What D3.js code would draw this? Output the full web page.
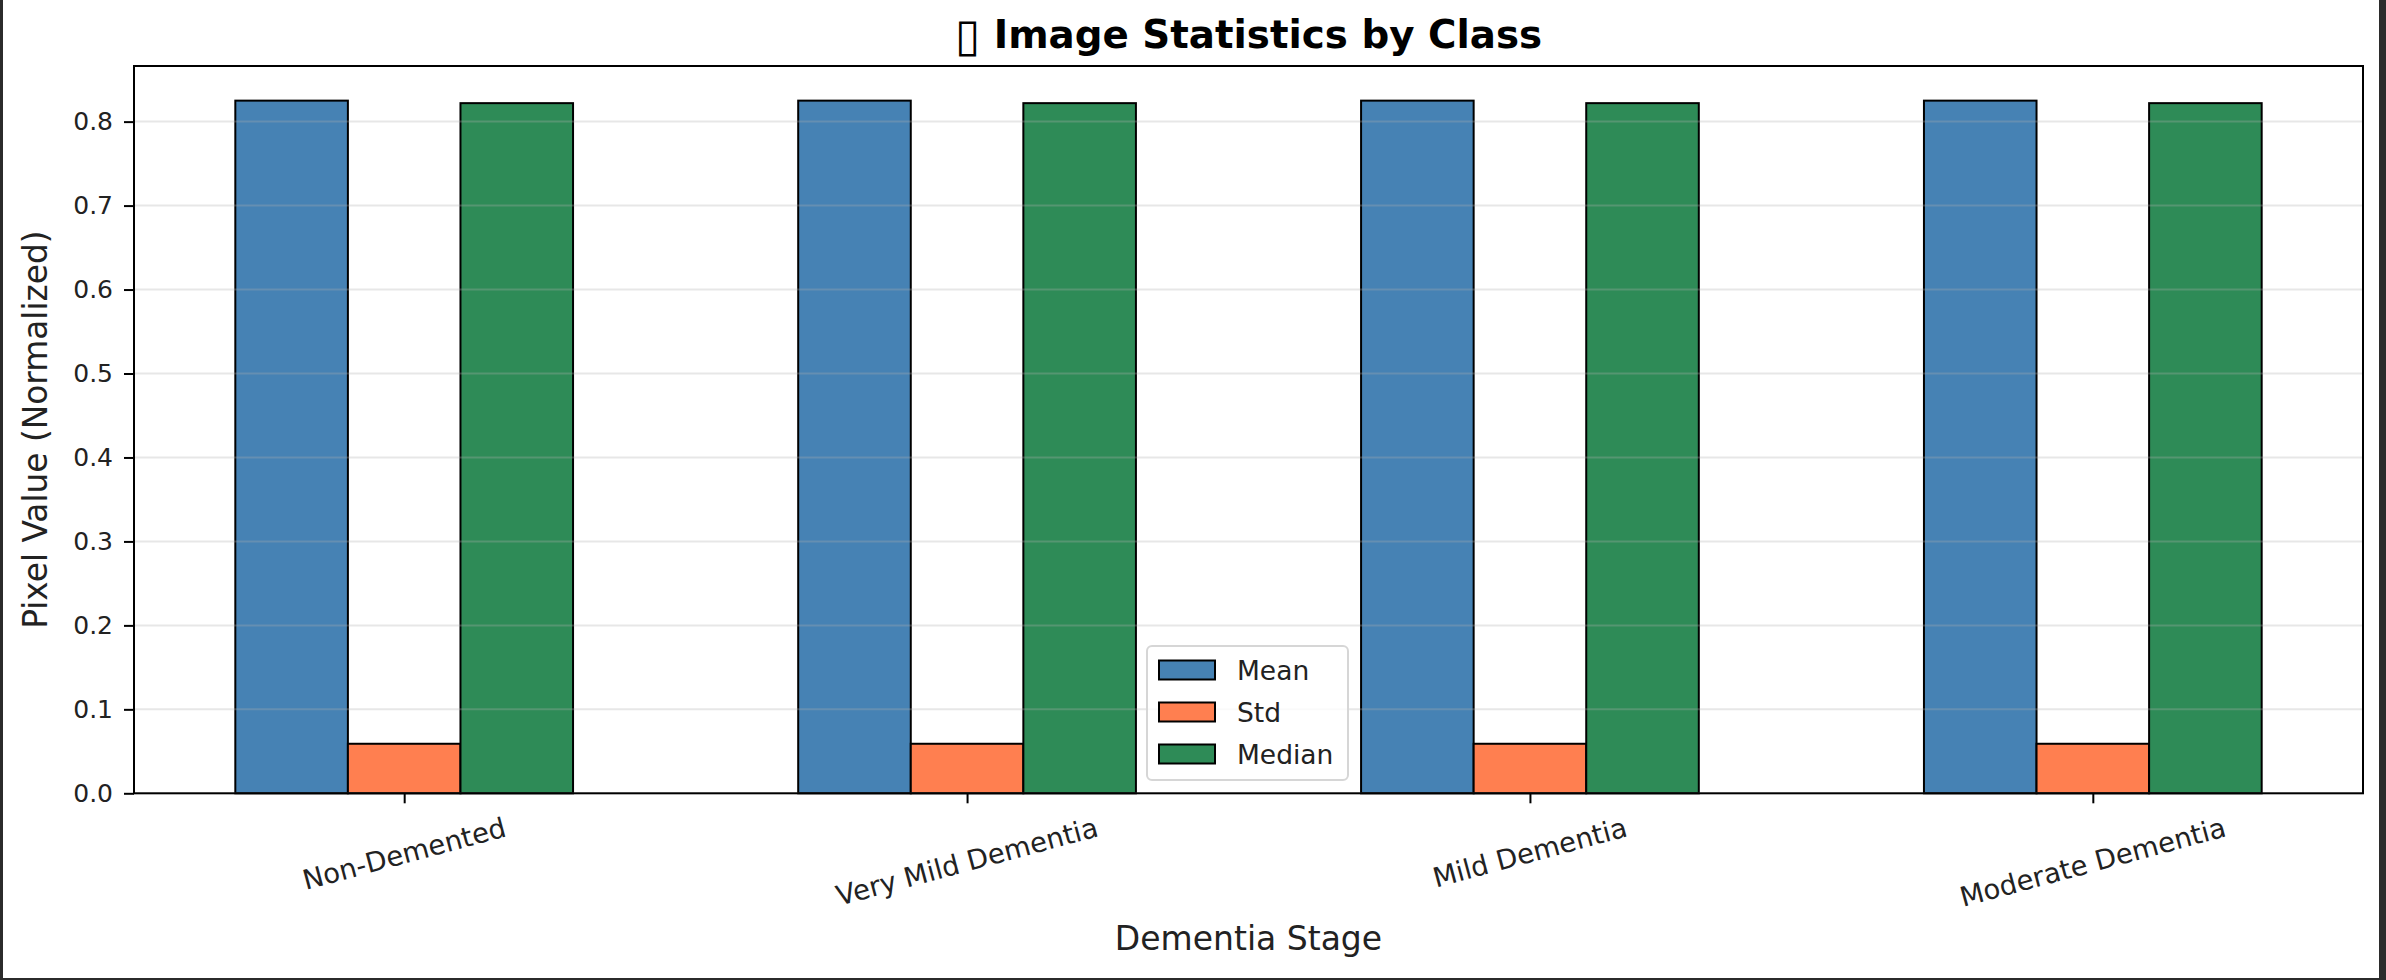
<!DOCTYPE html>
<html><head><meta charset="utf-8">
<script src="https://cdn.jsdelivr.net/npm/d3@7"></script>
<style>
html,body{margin:0;padding:0;background:#fff;}
svg{display:block;font-family:"DejaVu Sans",sans-serif;}
</style></head>
<body>
<svg id="c" width="2386" height="980"></svg>
<script>
// ---- data ----
const categories = ["Non-Demented", "Very Mild Dementia", "Mild Dementia", "Moderate Dementia"];
const seriesNames = ["Mean", "Std", "Median"];
const meanValues = [0.825, 0.825, 0.825, 0.825];
const stdValues = [0.059, 0.059, 0.059, 0.059];
const medianValues = [0.822, 0.822, 0.822, 0.822];
const yTicks = [0.0, 0.1, 0.2, 0.3, 0.4, 0.5, 0.6, 0.7, 0.8];
const colors = ["#4682B4", "#FF7F50", "#2E8B57"];
const titleIcon = "\u25AF";
const titleText = "Image Statistics by Class";
const xLabel = "Dementia Stage";
const yLabel = "Pixel Value (Normalized)";

const series = [meanValues, stdValues, medianValues];
const W = 2386, H = 980;
const L = 134, R = 2363, T = 66, B = 793.3;
const barW = 0.2, offsets = [-0.2, 0, 0.2];

const svg = d3.select("#c");
svg.append("rect").attr("width", W).attr("height", H).attr("fill", "#fff");

const ymax = d3.max(series.flat()) * 1.05;
const y = d3.scaleLinear().domain([0, ymax]).range([B, T]);
const xmin = -0.3 - 0.18, xmax = categories.length - 1 + 0.3 + 0.18;
const x = d3.scaleLinear().domain([xmin, xmax]).range([L, R]);

// bars
series.forEach((vals, s) => {
  svg.append("g").selectAll("rect").data(vals).join("rect")
    .attr("x", (d, i) => x(i + offsets[s] - barW / 2))
    .attr("width", (d, i) => x(i + offsets[s] + barW / 2) - x(i + offsets[s] - barW / 2))
    .attr("y", d => y(d))
    .attr("height", d => y(0) - y(d))
    .attr("fill", colors[s])
    .attr("stroke", "#000")
    .attr("stroke-width", 2);
});

// grid (drawn over bars like matplotlib)
svg.append("g").selectAll("line").data(yTicks).join("line")
  .attr("x1", L).attr("x2", R)
  .attr("y1", d => y(d)).attr("y2", d => y(d))
  .attr("stroke", "#b0b0b0").attr("stroke-opacity", 0.3).attr("stroke-width", 2);

// y axis
const yAxis = d3.axisLeft(y).tickValues(yTicks).tickFormat(d3.format(".1f")).tickSize(10).tickPadding(11);
const gy = svg.append("g").attr("transform", `translate(${L},0)`).call(yAxis);
gy.select(".domain").remove();
gy.selectAll(".tick line").attr("stroke", "#000").attr("stroke-width", 2);
gy.selectAll(".tick text").attr("font-size", 25).attr("fill", "#222").attr("font-family", "DejaVu Sans");

// x axis
const xAxis = d3.axisBottom(x).tickValues(d3.range(categories.length)).tickFormat(() => "").tickSize(10);
const gx = svg.append("g").attr("transform", `translate(0,${B})`).call(xAxis);
gx.select(".domain").remove();
gx.selectAll(".tick line").attr("stroke", "#000").attr("stroke-width", 2);

// rotated x tick labels
const fs = 27.5, ang = 15 * Math.PI / 180;
categories.forEach((c, i) => {
  const g = svg.append("g");
  const t = g.append("text").text(c).attr("font-size", fs).attr("text-anchor", "middle")
    .attr("dy", "0.346em").attr("fill", "#222");
  const w = t.node().getComputedTextLength();
  const top = B + 10 + 8;
  const cy = top + (w / 2) * Math.sin(ang) + 0.582 * fs * Math.cos(ang);
  g.attr("transform", `translate(${x(i)},${cy}) rotate(-15)`);
});

// spines
svg.append("rect").attr("x", L).attr("y", T).attr("width", R - L).attr("height", B - T)
  .attr("fill", "none").attr("stroke", "#000").attr("stroke-width", 2);

// title
const tt = svg.append("text").attr("x", (L + R) / 2).attr("y", 48).attr("text-anchor", "middle")
  .attr("font-size", 38.8).attr("font-weight", "bold").attr("fill", "#000");
tt.append("tspan").attr("font-weight", "normal").attr("font-size", 46).attr("dy", 2.5).text(titleIcon);
tt.append("tspan").attr("dy", -2.5).text(" " + titleText);

// axis labels
svg.append("text").attr("x", (L + R) / 2).attr("y", 950).attr("text-anchor", "middle")
  .attr("font-size", 33).attr("fill", "#222").text(xLabel);
svg.append("text").attr("transform", `translate(47,${(T + B) / 2}) rotate(-90)`)
  .attr("text-anchor", "middle").attr("font-size", 32.8).attr("fill", "#222").text(yLabel);

// legend
const lg = svg.append("g");
lg.append("rect").attr("x", 1147).attr("y", 646).attr("width", 201).attr("height", 134).attr("rx", 5)
  .attr("fill", "#fff").attr("fill-opacity", 0.8).attr("stroke", "#d6d6d6").attr("stroke-width", 2);
const rowsY = [670, 712, 754];
seriesNames.forEach((n, s) => {
  lg.append("rect").attr("x", 1159).attr("y", rowsY[s] - 9.5).attr("width", 56).attr("height", 19)
    .attr("fill", colors[s]).attr("stroke", "#000").attr("stroke-width", 2);
  lg.append("text").attr("x", 1237).attr("y", rowsY[s] + 9.7).attr("font-size", 26.5)
    .attr("fill", "#222").text(n);
});

// notebook frame
svg.append("rect").attr("x", 0).attr("y", 0).attr("width", 3).attr("height", H).attr("fill", "#2b2b2b");
svg.append("rect").attr("x", 2379).attr("y", 0).attr("width", 7).attr("height", H).attr("fill", "#2b2b2b");
svg.append("rect").attr("x", 0).attr("y", 978).attr("width", W).attr("height", 2).attr("fill", "#2b2b2b");
</script>
</body></html>
